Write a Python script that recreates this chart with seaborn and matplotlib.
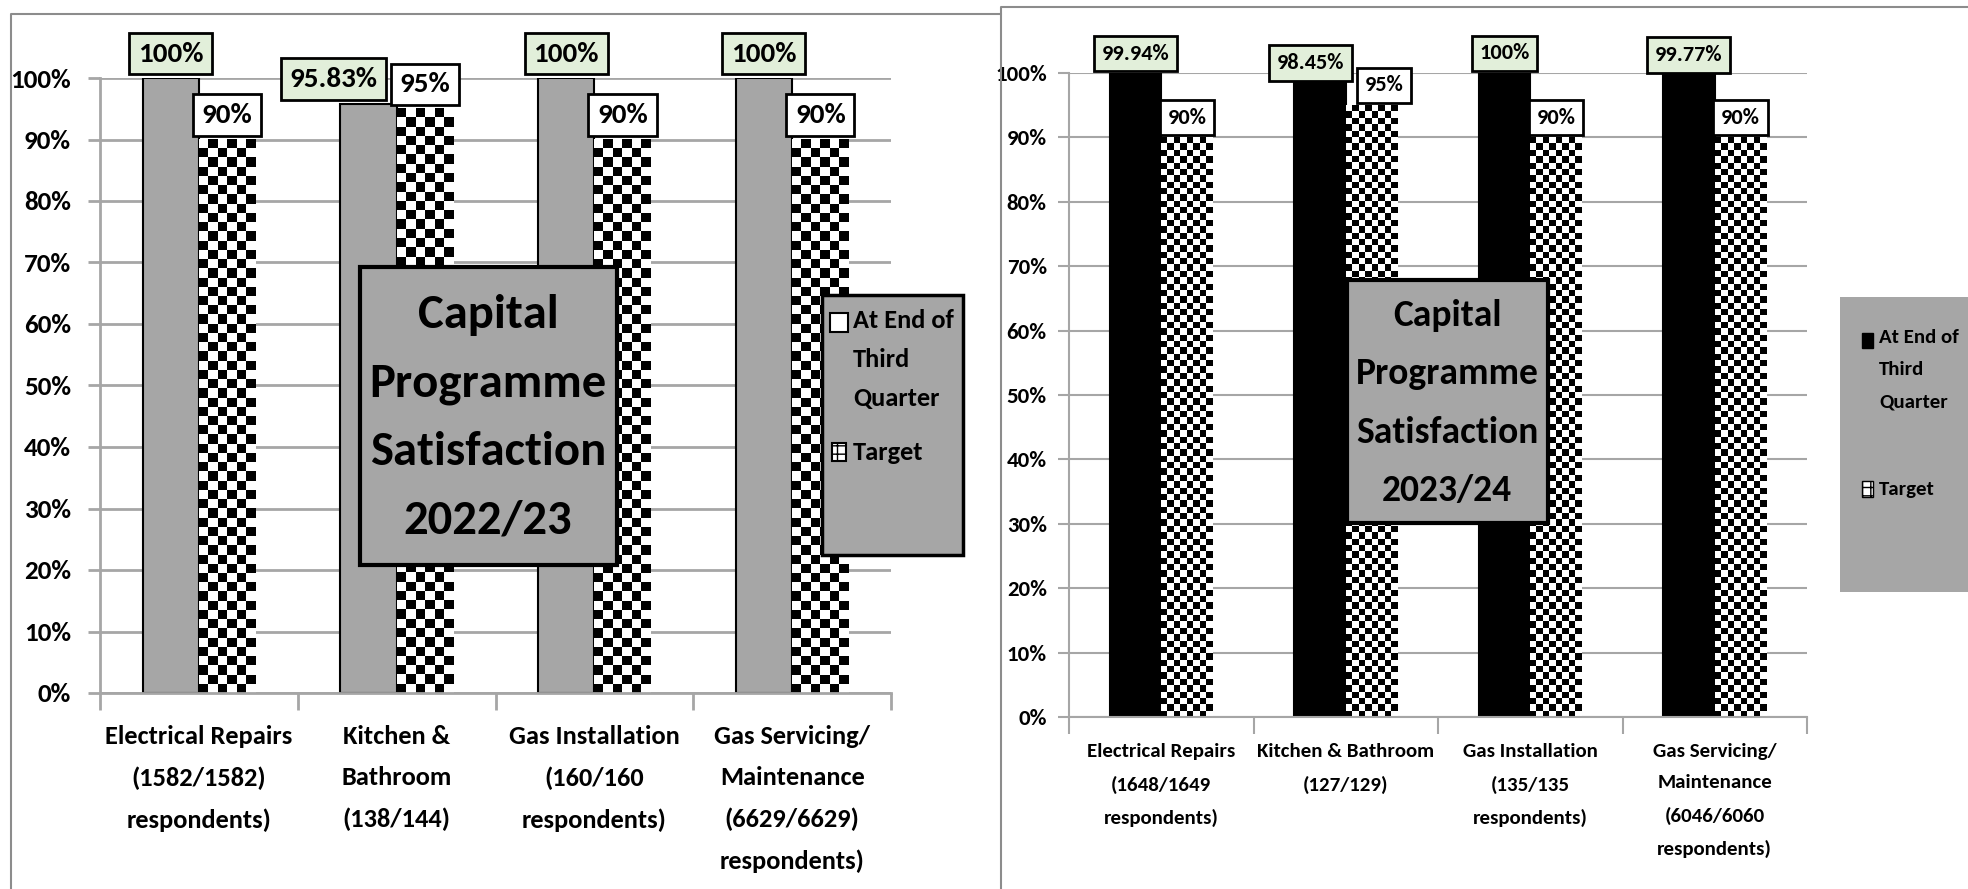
import numpy as np
import pandas as pd
import matplotlib
matplotlib.use('Agg')
import matplotlib.pyplot as plt
import matplotlib.ticker as mtick
from matplotlib.patches import Rectangle
from matplotlib.lines import Line2D
import seaborn as sns

# ---- data ----
series_names = ['At End of Third Quarter', 'Target']

left_labels = ['Electrical Repairs\n(1582/1582)\nrespondents)',
               'Kitchen &\nBathroom\n(138/144)',
               'Gas Installation\n(160/160\nrespondents)',
               'Gas Servicing/\nMaintenance\n(6629/6629)\nrespondents)']
left_actual = [1.0, 0.9583, 1.0, 1.0]
left_target = [0.90, 0.95, 0.90, 0.90]
left_actual_text = ['100%', '95.83%', '100%', '100%']
left_target_text = ['90%', '95%', '90%', '90%']
left_title = 'Capital\nProgramme\nSatisfaction\n2022/23'

right_labels = ['Electrical Repairs\n(1648/1649\nrespondents)',
                'Kitchen & Bathroom\n(127/129)',
                'Gas Installation\n(135/135\nrespondents)',
                'Gas Servicing/\nMaintenance\n(6046/6060\nrespondents)']
right_actual = [0.9994, 0.9845, 1.0, 0.9977]
right_target = [0.90, 0.95, 0.90, 0.90]
right_actual_text = ['99.94%', '98.45%', '100%', '99.77%']
right_target_text = ['90%', '95%', '90%', '90%']
right_title = 'Capital\nProgramme\nSatisfaction\n2023/24'

legend_text = 'At End of\nThird\nQuarter'

W, H = 1968, 889
GRID = '#a6a6a6'
BOX_GRAY = '#a6a6a6'
LABEL_GREEN = '#e2efda'

sns.set_style('white')
plt.rcParams['font.family'] = ['Carlito', 'DejaVu Sans']
plt.rcParams['font.weight'] = 'bold'
plt.rcParams['text.color'] = 'black'
plt.rcParams['xtick.color'] = 'black'
plt.rcParams['ytick.color'] = 'black'

fig = plt.figure(figsize=(W / 100, H / 100), dpi=100)


def rect_px(x0, y0, x1, y1):
    return [x0 / W, 1 - y1 / H, (x1 - x0) / W, (y1 - y0) / H]


def fig_rect(x0, y0, x1, y1, **kw):
    r = Rectangle((x0 / W, 1 - y1 / H), (x1 - x0) / W, (y1 - y0) / H,
                  transform=fig.transFigure, **kw)
    fig.add_artist(r)
    return r


def draw_panel(ax, labels, actual, target, actual_text, target_text, st):
    df = pd.DataFrame({
        'category': labels * 2,
        'series': [series_names[0]] * 4 + [series_names[1]] * 4,
        'value': actual + target,
    })
    sns.barplot(data=df, x='category', y='value', hue='series',
                hue_order=series_names,
                palette={series_names[0]: st['color'], series_names[1]: 'white'},
                width=st['width'], saturation=1, legend=False, ax=ax)
    ax.set_xlim(-0.5, 3.5)
    ax.set_ylim(0, 1)
    ax.set_xlabel('')
    ax.set_ylabel('')

    for p in ax.containers[0]:
        p.set_edgecolor(st['edge'])
        p.set_linewidth(1.5)
        p.set_zorder(2)
    for p in ax.containers[1]:
        p.set_linewidth(0)

    # checkered fill for target bars
    fig.canvas.draw()
    for p in ax.containers[1]:
        x0, x1 = p.get_x(), p.get_x() + p.get_width()
        h = p.get_height()
        (px0, py0), (px1, py1) = ax.transData.transform([(x0, 0), (x1, h)])
        nc = max(1, int(round((px1 - px0) / st['cell'])))
        nr = max(1, int(round((py1 - py0) / st['cell'])))
        board = np.add.outer(np.arange(nr), np.arange(nc)) % 2
        ax.imshow(board, cmap='gray', vmin=0, vmax=1, extent=(x0, x1, 0, h),
                  origin='lower', aspect='auto', interpolation='nearest',
                  zorder=2)
    ax.set_xlim(-0.5, 3.5)
    ax.set_ylim(0, 1)

    ax.yaxis.set_major_locator(mtick.MultipleLocator(0.1))
    ax.yaxis.set_major_formatter(mtick.PercentFormatter(1.0, decimals=0))
    ax.yaxis.grid(True, color=GRID, lw=st['grid_lw'])
    ax.set_axisbelow(True)
    for s in ['top', 'right']:
        ax.spines[s].set_visible(False)
    for s in ['left', 'bottom']:
        ax.spines[s].set_color(GRID)
        ax.spines[s].set_linewidth(st['grid_lw'])
    ax.tick_params(axis='y', left=True, length=st['ytick_len'], color=GRID,
                   width=st['grid_lw'], pad=st['ypad'], labelsize=st['ytick_size'])
    ax.set_xticks(range(4))
    ax.set_xticklabels(labels, fontsize=st['xtick_size'], linespacing=st['xls'],
                       va='top')
    ax.set_xticks(np.arange(-0.5, 4, 1), minor=True)
    ax.tick_params(axis='x', which='major', length=0, pad=st['xpad'])
    ax.tick_params(axis='x', which='minor', bottom=True, length=12, color=GRID,
                   width=st['grid_lw'])

    box = 'square,pad=%.2f' % st['box_pad']
    a1 = ax.bar_label(ax.containers[0], labels=actual_text, padding=st['lab_pad'],
                      fontsize=st['value_size'], annotation_clip=False, zorder=5,
                      bbox=dict(boxstyle=box, fc=LABEL_GREEN, ec='black', lw=2))
    a2 = ax.bar_label(ax.containers[1], labels=target_text, padding=st['lab_pad'],
                      fontsize=st['value_size'], annotation_clip=False, zorder=5,
                      bbox=dict(boxstyle=box, fc='white', ec='black', lw=2))
    for i, dx in st.get('shift_actual', {}).items():
        a1[i].xyann = (dx, st['lab_pad'])
    for i, dx in st.get('shift_target', {}).items():
        a2[i].xyann = (dx, st['lab_pad'])


left_style = dict(color=BOX_GRAY, edge='black', width=0.57, cell=9.3, grid_lw=2,
                  ytick_len=9, ypad=12, ytick_size=19.5, xtick_size=19, xls=1.95,
                  xpad=23, value_size=21, box_pad=0.3, lab_pad=9,
                  shift_actual={1: -25})
right_style = dict(color='black', edge='black', width=0.56, cell=6.4, grid_lw=1.5,
                   ytick_len=8, ypad=8, ytick_size=16.5, xtick_size=15, xls=2.0,
                   xpad=19, value_size=16, box_pad=0.35, lab_pad=7,
                   shift_actual={1: -7}, shift_target={1: 9})

ax_l = fig.add_axes(rect_px(100, 78, 891, 693))
ax_r = fig.add_axes(rect_px(1069, 73, 1807, 717))
draw_panel(ax_l, left_labels, left_actual, left_target,
           left_actual_text, left_target_text, left_style)
draw_panel(ax_r, right_labels, right_actual, right_target,
           right_actual_text, right_target_text, right_style)

# panel frames
fig.add_artist(Line2D([11 / W, 11 / W, 1001 / W], [0, 1 - 14 / H, 1 - 14 / H],
                      transform=fig.transFigure, color='#8c8c8c', lw=1.5))
fig.add_artist(Line2D([1001 / W, 1001 / W, 1], [0, 1 - 7 / H, 1 - 7 / H],
                      transform=fig.transFigure, color='#8c8c8c', lw=1.5))

# title boxes
fig_rect(360, 267, 617, 565, fc=BOX_GRAY, ec='black', lw=3, zorder=6)
fig.text(488 / W, 1 - 418 / H, left_title, ha='center', va='center',
         fontsize=35, linespacing=1.77, zorder=7)
fig_rect(1347, 280, 1548, 523, fc=BOX_GRAY, ec='black', lw=3, zorder=6)
fig.text(1447 / W, 1 - 403 / H, right_title, ha='center', va='center',
         fontsize=27, linespacing=1.93, zorder=7)

# left legend
fig_rect(822, 295, 963, 555, fc=BOX_GRAY, ec='black', lw=2.5, zorder=6)
fig_rect(830, 313, 848, 332, fc='white', ec='black', lw=1.5, zorder=7)
fig_rect(832, 443, 846, 461, fc='white', ec='black', lw=1.5, hatch='++', zorder=7)
fig.text(853 / W, 1 - 309 / H, legend_text, ha='left', va='top',
         fontsize=19, linespacing=1.83, zorder=7)
fig.text(853 / W, 1 - 452 / H, series_names[1], ha='left', va='center',
         fontsize=19, zorder=7)

# right legend
fig_rect(1840, 297, 1968, 592, fc=BOX_GRAY, ec='none', zorder=6)
fig_rect(1862, 333, 1873, 348, fc='black', ec='black', lw=1, zorder=7)
fig_rect(1862, 481, 1873, 497, fc='white', ec='black', lw=1, hatch='++', zorder=7)
fig.text(1879 / W, 1 - 329 / H, legend_text, ha='left', va='top',
         fontsize=15, linespacing=2.1, zorder=7)
fig.text(1879 / W, 1 - 489 / H, series_names[1], ha='left', va='center',
         fontsize=15, zorder=7)

fig.savefig('out.png', dpi=100)
